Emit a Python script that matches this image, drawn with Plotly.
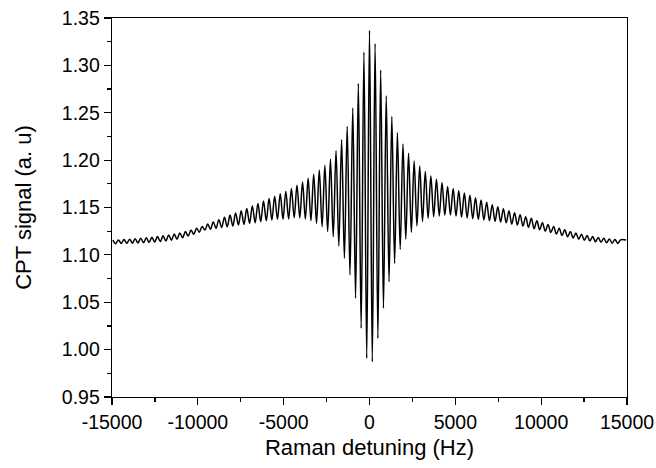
import plotly.graph_objects as go

# Fringe extrema (CPT signal, a.u.)
peak_detuning = list(range(-14950, 14951, 325))          # Hz, fringe maxima
trough_detuning = list(range(-14787, 14788, 325))        # Hz, fringe minima (approx. midway)

peak_signal = [
    1.1155, 1.1158, 1.1162, 1.1166, 1.1170, 1.1175, 1.1180, 1.1186, 1.1193, 1.1201,
    1.1210, 1.1220, 1.1232, 1.1246, 1.1262, 1.1280, 1.1300,
    1.1325, 1.1348, 1.1372, 1.1396, 1.1420, 1.1443, 1.1466, 1.1490, 1.1515, 1.1542,
    1.1568, 1.1594, 1.1620, 1.1646, 1.1672, 1.1700,
    1.1735, 1.1770, 1.1808, 1.1850, 1.1895, 1.1945, 1.2010, 1.2100, 1.2215, 1.2355,
    1.2550, 1.2810, 1.3140,
    1.3370,
    1.3230, 1.2950, 1.2680, 1.2460, 1.2290, 1.2170, 1.2072, 1.1990, 1.1938, 1.1880,
    1.1832, 1.1797, 1.1762,
    1.1722, 1.1700, 1.1678, 1.1652, 1.1629, 1.1604, 1.1580, 1.1555, 1.1530, 1.1509,
    1.1488, 1.1466, 1.1445, 1.1424, 1.1403, 1.1386,
    1.1360, 1.1340, 1.1320, 1.1300, 1.1282, 1.1264, 1.1247, 1.1231, 1.1217, 1.1204,
    1.1193, 1.1183, 1.1175, 1.1168, 1.1163, 1.1159, 1.1156,
]

trough_signal = [
    1.1118, 1.1120, 1.1122, 1.1124, 1.1126, 1.1129, 1.1132, 1.1136, 1.1141, 1.1147,
    1.1155, 1.1165, 1.1180, 1.1198, 1.1218, 1.1240, 1.1262,
    1.1270, 1.1280, 1.1290, 1.1297, 1.1305, 1.1315, 1.1322, 1.1333, 1.1339, 1.1350,
    1.1360, 1.1368, 1.1375, 1.1375, 1.1378,
    1.1392, 1.1390, 1.1378, 1.1360, 1.1333, 1.1297, 1.1245, 1.1192, 1.1094, 1.0964,
    1.0788, 1.0542, 1.0225, 0.9908,
    0.9873, 1.0119, 1.0436, 1.0717, 1.0910, 1.1058, 1.1164, 1.1238, 1.1305, 1.1350,
    1.1386, 1.1403, 1.1410, 1.1420,
    1.1420, 1.1410, 1.1396, 1.1389, 1.1382, 1.1375, 1.1368, 1.1360, 1.1354, 1.1346,
    1.1339, 1.1325, 1.1315, 1.1305, 1.1290, 1.1276,
    1.1265, 1.1250, 1.1235, 1.1220, 1.1205, 1.1191, 1.1178, 1.1166, 1.1155, 1.1146,
    1.1139, 1.1133, 1.1128, 1.1124, 1.1121, 1.1119,
]

x_ticks = [-15000, -10000, -5000, 0, 5000, 10000, 15000]
x_tick_labels = ["-15000", "-10000", "-5000", "0", "5000", "10000", "15000"]
y_ticks = [0.95, 1.00, 1.05, 1.10, 1.15, 1.20, 1.25, 1.30, 1.35]
y_tick_labels = ["0.95", "1.00", "1.05", "1.10", "1.15", "1.20", "1.25", "1.30", "1.35"]

# interleave maxima and minima into one trace
xs, ys = [], []
for i, (px, py) in enumerate(zip(peak_detuning, peak_signal)):
    xs.append(px)
    ys.append(py)
    if i < len(trough_detuning):
        xs.append(trough_detuning[i])
        ys.append(trough_signal[i])

fig = go.Figure(
    go.Scatter(
        x=xs, y=ys, mode="lines",
        line=dict(color="black", width=1.5, shape="spline", smoothing=1.0),
        hoverinfo="skip",
    )
)

font_family = "Liberation Sans, Arial, sans-serif"
fig.update_layout(
    width=656, height=468,
    margin=dict(l=112, r=29, t=18, b=71, autoexpand=False),
    paper_bgcolor="white", plot_bgcolor="white",
    showlegend=False,
    font=dict(family=font_family, size=19.5, color="black"),
)
fig.update_xaxes(
    range=[-15000, 15000],
    tickvals=x_ticks, ticktext=x_tick_labels,
    ticks="outside", ticklen=7, tickwidth=1.2, tickcolor="black",
    minor=dict(ticks="outside", ticklen=4, tickwidth=1.2, tickcolor="black", dtick=2500, tick0=0, showgrid=False),
    showline=True, linecolor="black", linewidth=1.3, mirror=True,
    showgrid=False, zeroline=False, automargin=False,
    tickfont=dict(size=19.5),
    title=dict(text="Raman detuning (Hz)", font=dict(size=22), standoff=8),
)
fig.update_yaxes(
    range=[0.95, 1.35],
    tickvals=y_ticks, ticktext=y_tick_labels,
    ticks="outside", ticklen=7, tickwidth=1.2, tickcolor="black",
    minor=dict(ticks="outside", ticklen=4, tickwidth=1.2, tickcolor="black", dtick=0.025, tick0=0.95, showgrid=False),
    showline=True, linecolor="black", linewidth=1.3, mirror=True,
    showgrid=False, zeroline=False, automargin=False,
    tickfont=dict(size=19.5),
    title=dict(text="CPT signal (a. u)", font=dict(size=22), standoff=24),
)

fig.write_html(
    "out.html",
    config={"displayModeBar": False, "staticPlot": True},
    post_script="document.body.style.margin='0';",
)
